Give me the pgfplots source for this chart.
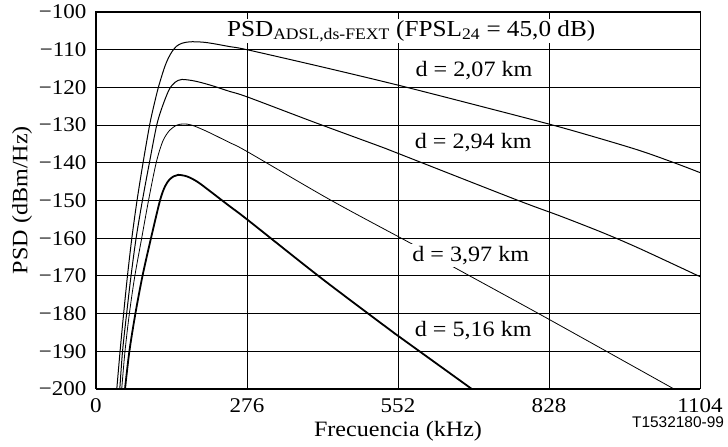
\documentclass[border=0pt]{standalone}
\usepackage{fontspec}
\setmainfont{Liberation Serif}[FakeStretch=1.1]
\newfontfamily\sansf{Liberation Sans}
\usepackage{pgfplots}
\pgfplotsset{compat=1.18}
\begin{document}
\begin{tikzpicture}[x=1bp,y=1bp]
\begin{axis}[
  at={(0,0)}, anchor=south west,
  scale only axis, width=604bp, height=377bp,
  xmin=0, xmax=1104, ymin=-200, ymax=-100,
  xtick={0,276,552,828,1104},
  xticklabels={0,276,552,828,1104},
  ytick={-200,-190,-180,-170,-160,-150,-140,-130,-120,-110,-100},
  yticklabels={−200,−190,−180,−170,−160,−150,−140,−130,−120,−110,−100},
  grid=major, grid style={black, line width=0.8bp},
  major tick length=0pt,
  axis line style={line width=1bp},
  tick label style={font=\fontsize{21}{24}\selectfont},
  yticklabel style={xshift=-6bp},
  xticklabel style={yshift=-6bp},
  label style={font=\fontsize{22}{26}\selectfont},
  xlabel={Frecuencia (kHz)},
  xlabel style={at={(axis description cs:0.5,0)}, anchor=base, yshift=-47bp},
  /pgf/number format/assume math mode=true,
  clip=true,
]
% d = 2,07 km
\addplot[black, line width=1bp, smooth, tension=0.5] coordinates {
(38,-200) (44,-190) (50.5,-180) (57.5,-170) (65.5,-160) (75,-150) (86,-140) (98,-130) (105.5,-125) (114,-120) (124.5,-115) (132,-112.3) (139,-110.5) (147,-109.1) (157,-108.3) (172,-107.9) (195,-108.0) (215,-108.4) (245,-109.2) (276,-110) (414,-114.6) (552,-119.4) (703,-125.0) (850,-130.6) (984,-136.3) (1057,-140) (1104,-142.6)
};
% d = 2,94 km
\addplot[black, line width=1bp, smooth, tension=0.5] coordinates {
(43.5,-200) (48.5,-190) (56,-180) (64,-170) (73.3,-160) (84.8,-150) (97.6,-140) (111,-130) (121.5,-125) (134,-120.5) (145,-118.6) (157,-117.9) (180,-118.3) (209,-119.4) (245,-121.1) (276,-122.5) (400,-129.3) (520,-135.7) (552,-137.5) (770,-149.9) (850,-154.2) (929,-158.7) (996,-162.9) (1104,-170.2)
};
% d = 3,97 km
\addplot[black, line width=0.8bp, smooth, tension=0.5] coordinates {
(47,-200) (53,-190) (61,-180) (71,-170) (83.5,-160) (96,-150) (110,-140) (122,-134.3) (134.5,-131.4) (148,-130) (160,-129.7) (175,-130) (203,-131.7) (245,-134.7) (276,-137) (429,-149.9) (581,-161.8) (658,-168) (819,-180.8) (1054,-199.8) (1060,-200.3)
};
% d = 5,16 km
\addplot[black, line width=1.8bp, smooth, tension=0.5] coordinates {
(53,-200) (61,-190) (72,-180) (85,-170) (100.5,-160) (117,-150) (126,-146.3) (134,-144.5) (142,-143.6) (150,-143.2) (166,-143.6) (185,-145) (210,-147.7) (245,-151.6) (276,-155) (410,-170.4) (538,-184.4) (554,-186.1) (685,-199.8) (690,-200.3)
};
\node[anchor=base, fill=white, inner sep=1bp, font=\fontsize{23}{26}\selectfont] at (axis cs:576,-106.4) {PSD\textsubscript{ADSL,ds-FEXT} (FPSL\textsubscript{24} = 45,0 dB)};
\node[anchor=base, font=\fontsize{22}{26}\selectfont] at (axis cs:691,-117.2) {d = 2,07 km};
\node[anchor=base, font=\fontsize{22}{26}\selectfont] at (axis cs:689.5,-136.2) {d = 2,94 km};
\node[anchor=base, fill=white, inner sep=2bp, font=\fontsize{22}{26}\selectfont] at (axis cs:685,-166.2) {d = 3,97 km};
\node[anchor=base, font=\fontsize{22}{26}\selectfont] at (axis cs:689.5,-186.1) {d = 5,16 km};
\end{axis}
\node[rotate=90, anchor=center, font=\fontsize{22}{26}\selectfont] at (-74bp,189bp) {PSD (dBm/Hz)};
\node[font=\sansf\fontsize{15.5}{18}\selectfont] at (582bp,-33bp) {T1532180-99};
\pgfresetboundingbox
\path (-96bp,-58bp) rectangle (632bp,389bp);
\end{tikzpicture}
\end{document}
